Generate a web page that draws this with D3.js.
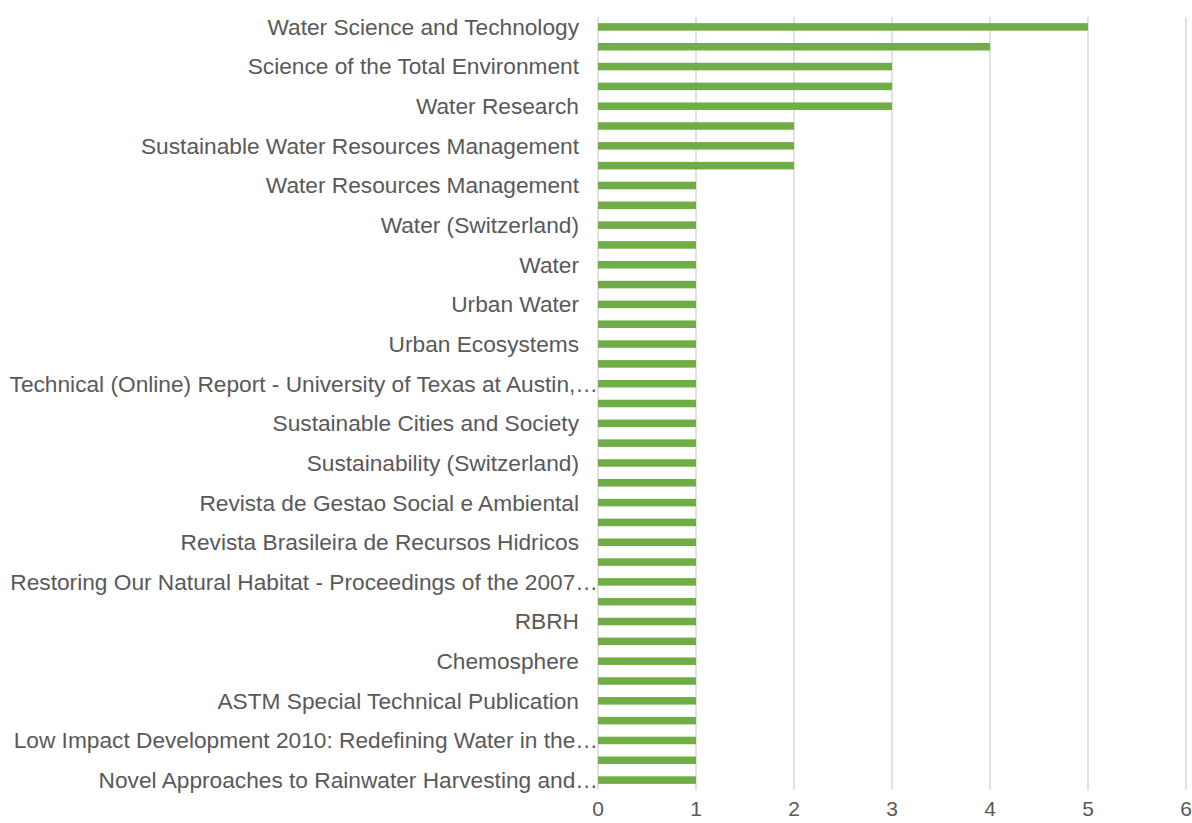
<!DOCTYPE html>
<meta charset="utf-8">
<head>
  <title>Sources by count</title>
</head>

<style>
body { margin: 0; background: #fff; }
.grid line {
  stroke: #d9d9d9;
  stroke-width: 1.5;
}
.bar {
  fill: #70ad47;
}
text {
  font-family: "Liberation Sans", Arial, sans-serif;
  fill: #595959;
  font-size: 22.7px;
}
.tick-label {
  font-size: 21px;
}
</style>

<body>
  <svg width="1192" height="823"></svg>

  <script src="https://cdnjs.cloudflare.com/ajax/libs/d3/7.8.5/d3.min.js"></script>
  <script>
// category names, top to bottom; Excel only printed every other one
var sources = [
  "Water Science and Technology", null,
  "Science of the Total Environment", null,
  "Water Research", null,
  "Sustainable Water Resources Management", null,
  "Water Resources Management", null,
  "Water (Switzerland)", null,
  "Water", null,
  "Urban Water", null,
  "Urban Ecosystems", null,
  "Technical (Online) Report - University of Texas at Austin,\u2026", null,
  "Sustainable Cities and Society", null,
  "Sustainability (Switzerland)", null,
  "Revista de Gestao Social e Ambiental", null,
  "Revista Brasileira de Recursos Hidricos", null,
  "Restoring Our Natural Habitat - Proceedings of the 2007\u2026", null,
  "RBRH", null,
  "Chemosphere", null,
  "ASTM Special Technical Publication", null,
  "Low Impact Development 2010: Redefining Water in the\u2026", null,
  "Novel Approaches to Rainwater Harvesting and\u2026"
];
var counts = [5, 4, 3, 3, 3, 2, 2, 2,
  1, 1, 1, 1, 1, 1, 1, 1, 1, 1, 1, 1, 1, 1, 1, 1, 1, 1, 1, 1, 1, 1, 1,
  1, 1, 1, 1, 1, 1, 1, 1];
var xTicks = [0, 1, 2, 3, 4, 5, 6];

var svg = d3.select('svg');

var x = d3.scaleLinear()
  .domain([0, 6])
  .range([598, 1186]);

var y = d3.scaleBand()
  .domain(d3.range(counts.length))
  .range([17, 790])
  .paddingInner(0.62)
  .paddingOuter(0.31);

svg.append('g')
  .attr('class', 'grid')
  .selectAll('line')
  .data(xTicks)
  .enter()
  .append('line')
  .attr('x1', function(d) { return x(d); })
  .attr('x2', function(d) { return x(d); })
  .attr('y1', 17)
  .attr('y2', 790);

svg.append('g')
  .selectAll('rect')
  .data(counts)
  .enter()
  .append('rect')
  .attr('class', 'bar')
  .attr('x', x(0))
  .attr('y', function(d, i) { return y(i); })
  .attr('width', function(d) { return x(d) - x(0); })
  .attr('height', y.bandwidth());

svg.append('g')
  .selectAll('text')
  .data(sources)
  .enter()
  .filter(function(d) { return d; })
  .append('text')
  .attr('text-anchor', 'end')
  .attr('x', function(d) { return /\u2026$/.test(d) ? 598 : 579; })
  .attr('y', function(d) { return y(sources.indexOf(d)) + y.bandwidth() / 2; })
  .attr('dy', '0.35em')
  .text(function(d) { return d; });

svg.append('g')
  .selectAll('text')
  .data(xTicks)
  .enter()
  .append('text')
  .attr('class', 'tick-label')
  .attr('text-anchor', 'middle')
  .attr('x', function(d) { return x(d); })
  .attr('y', 809)
  .attr('dy', '0.35em')
  .text(function(d) { return d; });
  </script>
</body>
</html>
